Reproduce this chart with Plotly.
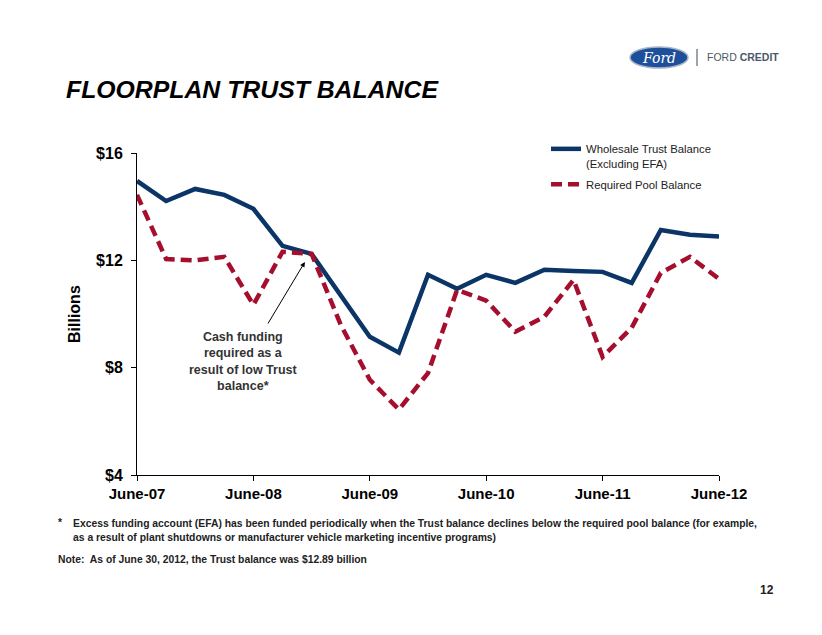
import plotly.graph_objects as go

# ---- data (billions, quarterly June-07 .. June-12) ----
quarters = list(range(21))
tick_positions = [0, 4, 8, 12, 16, 20]
tick_labels = ["June-07", "June-08", "June-09", "June-10", "June-11", "June-12"]
y_ticks = [4, 8, 12, 16]
y_tick_labels = ["$4", "$8", "$12", "$16"]

wholesale_trust = [14.96, 14.21, 14.66, 14.44, 13.92, 12.54, 12.24, 10.68, 9.15, 8.56,
                   11.46, 10.94, 11.46, 11.16, 11.65, 11.60, 11.57, 11.16, 13.13, 12.95, 12.89]
required_pool = [14.44, 12.05, 12.00, 12.13, 10.34, 12.32, 12.24, 9.60, 7.55, 6.44,
                 7.80, 10.90, 10.50, 9.34, 9.90, 11.27, 8.40, 9.49, 11.53, 12.13, 11.31]

# page has an 8px body margin; the figure is sized so it ends at the window edge
OFF = 8
W, H = 822 - OFF, 635 - OFF
L, R, T, B = 137, 719, 153, 475   # plot-area edges in window pixels

def px(x):
    return (x - L) / (R - L)

def py(y):
    return (B - y) / (B - T)

BLUE = "#0a3566"
RED = "#a50f2d"
FONT = "Liberation Sans, Arial, sans-serif"

fig = go.Figure()
fig.add_trace(go.Scatter(
    x=quarters, y=wholesale_trust, mode="lines",
    name="Wholesale Trust Balance<br>(Excluding EFA)", legendgroup="a",
    line=dict(color=BLUE, width=4.5),
))
fig.add_trace(go.Scatter(
    x=quarters, y=required_pool, mode="lines",
    name="Required Pool Balance", legendgroup="b",
    line=dict(color=RED, width=4.5, dash="11px,6px"),
))

fig.update_layout(
    width=W, height=H,
    margin=dict(l=L - OFF, r=W - (R - OFF), t=T - OFF, b=H - (B - OFF), pad=0),
    paper_bgcolor="white", plot_bgcolor="white",
    font=dict(family=FONT, color="black"),
    showlegend=True,
    legend=dict(
        x=px(546), y=py(135), xanchor="left", yanchor="top",
        font=dict(size=11.3, color="#222222", family=FONT),
        valign="top", bgcolor="rgba(0,0,0,0)", tracegroupgap=3,
    ),
    xaxis=dict(
        range=[0, 20], tickvals=tick_positions, ticktext=tick_labels,
        showline=True, linecolor="black", linewidth=1,
        ticks="outside", ticklen=5, tickcolor="black", tickwidth=1,
        showgrid=False, zeroline=False,
        tickfont=dict(size=15, family=FONT, color="black", weight="bold"),
    ),
    yaxis=dict(
        range=[4, 16], tickvals=y_ticks, ticktext=y_tick_labels,
        showline=True, linecolor="black", linewidth=1,
        ticks="outside", ticklen=5, tickcolor="black", tickwidth=1,
        showgrid=False, zeroline=False, ticklabelstandoff=5,
        tickfont=dict(size=16, family=FONT, color="black", weight="bold"),
    ),
)

annotations = [
    # title
    dict(text="<b><i>FLOORPLAN TRUST BALANCE</i></b>", x=px(64), y=py(89),
         xref="paper", yref="paper", xanchor="left", yanchor="middle",
         showarrow=False, font=dict(size=24.8, color="black", family=FONT)),
    # y-axis title
    dict(text="<b>Billions</b>", x=px(74), y=py(314), xref="paper", yref="paper",
         xanchor="center", yanchor="middle", textangle=-90, showarrow=False,
         font=dict(size=16, color="black", family=FONT)),
    # callout text
    dict(text="<b>Cash funding<br>required as a<br>result of low Trust<br>balance*</b>",
         x=px(243), y=py(361.5), xref="paper", yref="paper",
         xanchor="center", yanchor="middle", showarrow=False, align="center",
         font=dict(size=12.5, color="#333333", family=FONT)),
    # callout arrow
    dict(text="", x=5.77, y=11.94, ax=4.47, ay=9.59, xref="x", yref="y",
         axref="x", ayref="y", showarrow=True, arrowhead=2, arrowsize=1,
         arrowwidth=1, arrowcolor="black", standoff=0),
    # footnotes
    dict(text="<b>*</b>", x=px(56), y=py(522), xref="paper", yref="paper",
         xanchor="left", yanchor="middle", showarrow=False,
         font=dict(size=10.35, color="#222222", family=FONT)),
    dict(text="<b>Excess funding account (EFA) has been funded periodically when the Trust balance declines below the required pool balance (for example,</b>",
         x=px(71), y=py(523.5), xref="paper", yref="paper",
         xanchor="left", yanchor="middle", showarrow=False,
         font=dict(size=10.35, color="#222222", family=FONT)),
    dict(text="<b>as a result of plant shutdowns or manufacturer vehicle marketing incentive programs)</b>",
         x=px(71), y=py(537.5), xref="paper", yref="paper",
         xanchor="left", yanchor="middle", showarrow=False,
         font=dict(size=10.35, color="#222222", family=FONT)),
    dict(text="<b>Note:  As of June 30, 2012, the Trust balance was $12.89 billion</b>",
         x=px(56), y=py(559.5), xref="paper", yref="paper",
         xanchor="left", yanchor="middle", showarrow=False,
         font=dict(size=10.35, color="#222222", family=FONT)),
    # page number
    dict(text="<b>12</b>", x=px(776), y=py(590), xref="paper", yref="paper",
         xanchor="right", yanchor="middle", showarrow=False,
         font=dict(size=12, color="#222222", family=FONT)),
    # logo texts
    dict(text="<i>Ford</i>", x=px(659), y=py(57.5), xref="paper", yref="paper",
         xanchor="center", yanchor="middle", showarrow=False,
         font=dict(size=14, color="white", family="DejaVu Serif, serif")),
    dict(text="FORD <b>CREDIT</b>", x=px(705), y=py(57), xref="paper", yref="paper",
         xanchor="left", yanchor="middle", showarrow=False,
         font=dict(size=10.5, color="#4a5866", family=FONT)),
]
fig.update_layout(annotations=annotations)

shapes = [
    dict(type="circle", xref="paper", yref="paper",
         x0=px(630), x1=px(688), y0=py(68), y1=py(47),
         fillcolor="#1d4f9a", line=dict(color="#a9b6c8", width=1.5)),
    dict(type="line", xref="paper", yref="paper",
         x0=px(697), x1=px(697), y0=py(66), y1=py(49),
         line=dict(color="#5a6672", width=1.2)),
]
fig.update_layout(shapes=shapes)

fig.write_html("out.html")
